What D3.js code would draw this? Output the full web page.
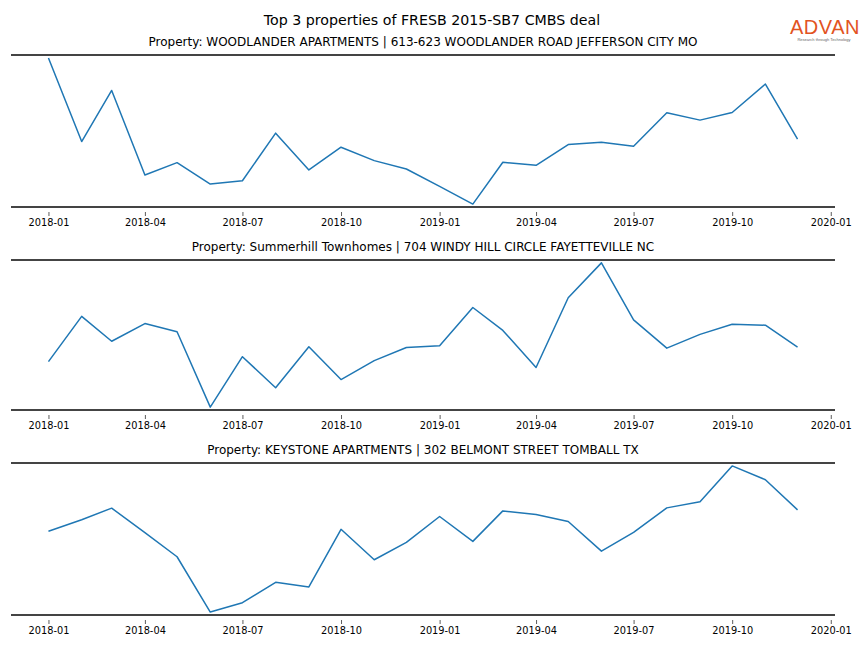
<!DOCTYPE html>
<html>
<head>
<meta charset="utf-8">
<script src="https://cdn.jsdelivr.net/npm/d3@7"></script>
<style>
  html, body { margin: 0; padding: 0; background: #fff; }
  svg { display: block; font-family: "DejaVu Sans", sans-serif; }
</style>
</head>
<body>
<svg id="chart" width="864" height="648"></svg>
<script>
const mainTitle = "Top 3 properties of FRESB 2015-SB7 CMBS deal";
const months = ["2018-01","2018-02","2018-03","2018-04","2018-05","2018-06","2018-07","2018-08","2018-09","2018-10","2018-11","2018-12",
                "2019-01","2019-02","2019-03","2019-04","2019-05","2019-06","2019-07","2019-08","2019-09","2019-10","2019-11","2019-12"];
const propertyTitles = [
  "Property: WOODLANDER APARTMENTS | 613-623 WOODLANDER ROAD JEFFERSON CITY MO",
  "Property: Summerhill Townhomes | 704 WINDY HILL CIRCLE FAYETTEVILLE NC",
  "Property: KEYSTONE APARTMENTS | 302 BELMONT STREET TOMBALL TX"
];
const woodlander = [148.7, 65.3, 116.3, 32, 44.3, 23, 26.3, 73.7, 37, 59.7, 46.3, 38, 20.7, 3, 44.7, 41.7, 62.3, 64.7, 60.7, 94, 86.7, 94.3, 122.7, 67.7];
const summerhill = [47.3, 93.3, 68, 86, 77.7, 1, 52.3, 20.7, 62.3, 29, 48.3, 61.7, 63.3, 102.3, 79, 41.3, 112.3, 147.7, 89.7, 61, 75, 85.3, 84.3, 62];
const keystone = [83, 94.5, 106, 81.7, 57.7, 2.7, 12, 32.3, 27.7, 85, 54.7, 72, 97.7, 73, 103.3, 99.7, 92.7, 63.3, 82, 106.3, 112.3, 148, 134.3, 104.3];
const tickLabels = ["2018-01","2018-04","2018-07","2018-10","2019-01","2019-04","2019-07","2019-10","2020-01"];

const seriesList = [woodlander, summerhill, keystone];
const parse = d3.utcParse("%Y-%m");
const dates = months.map(parse);
const tickDates = tickLabels.map(parse);

const svg = d3.select("#chart");
const left = 11, right = 835;
const panels = [{top: 55, bottom: 207}, {top: 260, bottom: 410}, {top: 463, bottom: 615}];

const t0 = dates[0].getTime(), t1 = dates[dates.length - 1].getTime();
const xpad = 0.05 * (t1 - t0);
const x = d3.scaleUtc().domain([new Date(t0 - xpad), new Date(t1 + xpad)]).range([left, right]);

svg.append("text").attr("x", 432).attr("y", 25).attr("text-anchor", "middle")
  .attr("font-size", 14.2).attr("fill", "#000").text(mainTitle);

// logo
const logo = svg.append("g");
logo.append("text").attr("x", 825).attr("y", 34).attr("text-anchor", "middle")
  .attr("font-family", "Liberation Sans, Arial, sans-serif").attr("font-size", 20)
  .attr("fill", "#e2531f").attr("letter-spacing", 0.5).text("ADVAN");
logo.append("text").attr("x", 824).attr("y", 40.5).attr("text-anchor", "middle")
  .attr("font-family", "Liberation Sans, Arial, sans-serif").attr("font-size", 4)
  .attr("fill", "#666").text("Research through Technology");

panels.forEach((p, i) => {
  const vals = seriesList[i];
  const [mn, mx] = d3.extent(vals);
  const pad = 0.02 * (mx - mn);
  const y = d3.scaleLinear().domain([mn - pad, mx + pad]).range([p.bottom, p.top]);
  const g = svg.append("g");

  g.append("text").attr("x", (left + right) / 2).attr("y", p.top - 9).attr("text-anchor", "middle")
    .attr("font-size", 12).attr("fill", "#000").text(propertyTitles[i]);

  const axis = d3.axisBottom(x).tickValues(tickDates).tickFormat(d3.utcFormat("%Y-%m"))
    .tickSize(4).tickPadding(3);
  const ax = g.append("g").attr("transform", `translate(0,${p.bottom + 5})`).call(axis);
  ax.select(".domain").remove();
  ax.selectAll(".tick line").attr("stroke", "#333").attr("stroke-width", 0.8);
  ax.selectAll(".tick text").attr("font-size", 9.8).attr("fill", "#000")
    .attr("font-family", "DejaVu Sans, sans-serif");

  const line = d3.line().x((d, j) => x(dates[j])).y(d => y(d));
  g.append("path").datum(vals).attr("d", line).attr("fill", "none")
    .attr("stroke", "#1f77b4").attr("stroke-width", 1.5).attr("stroke-linejoin", "round");

  g.append("line").attr("x1", left).attr("x2", right).attr("y1", p.top).attr("y2", p.top)
    .attr("stroke", "#444").attr("stroke-width", 2);
  g.append("line").attr("x1", left).attr("x2", right).attr("y1", p.bottom).attr("y2", p.bottom)
    .attr("stroke", "#444").attr("stroke-width", 2);
});
</script>
</body>
</html>
